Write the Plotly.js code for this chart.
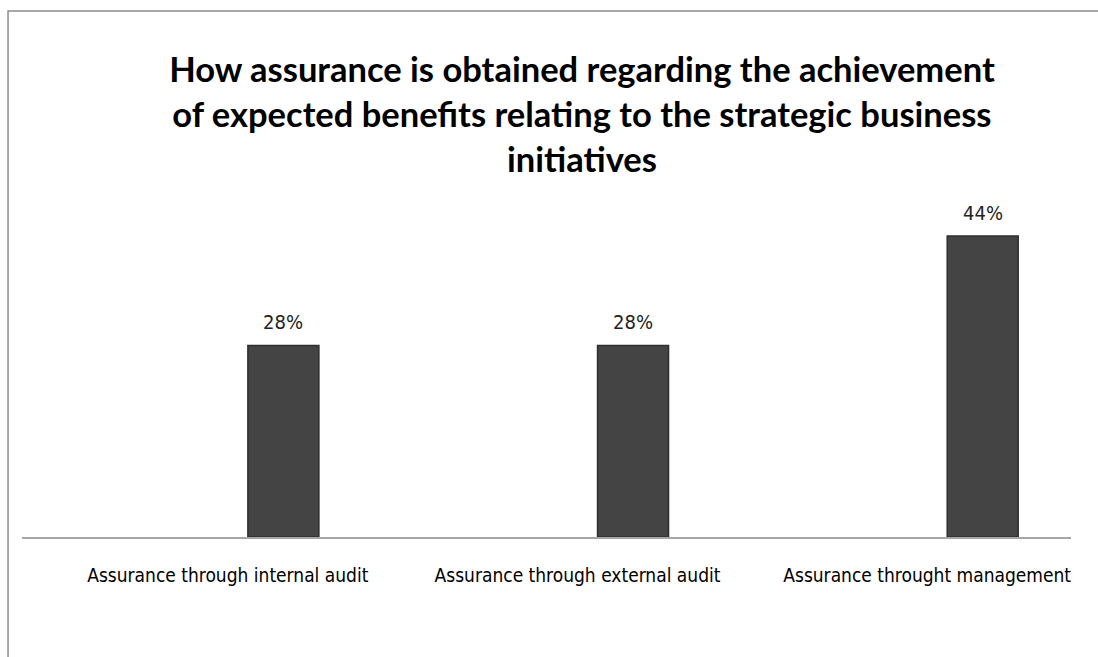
<!DOCTYPE html>
<html>
<head>
<meta charset="utf-8">
<script src="https://cdn.plot.ly/plotly-3.0.1.min.js"></script>
<style>html,body{margin:0;padding:0;background:#fff;}#chart{width:1098px;height:657px;}</style>
</head>
<body>
<div id="chart"></div>
<script>
const categories = [
  'Assurance through internal audit',
  'Assurance through external audit',
  'Assurance throught management'
];
const values = [28, 28, 44];
const valueLabels = values.map(v => v + '%');
const titleText = 'How assurance is obtained regarding the achievement<br>of expected benefits relating to the strategic business<br>initiatives';

const bodyFont = 'DejaVu Sans Condensed, DejaVu Sans, sans-serif';

const trace = {
  type: 'bar',
  x: categories,
  y: values,
  width: 0.203,
  offset: 0.146,
  marker: {color: '#444444', line: {color: '#2e2e2e', width: 1.5}},
  hoverinfo: 'none',
  showlegend: false
};

const annotations = categories.map((c, i) => ({
  x: c, y: values[i], xref: 'x', yref: 'y',
  text: valueLabels[i], showarrow: false,
  xanchor: 'center', yanchor: 'bottom',
  xshift: 86.5, yshift: 9,
  font: {family: bodyFont, size: 20, color: '#222222', stretch: 'condensed'}
}));

const layout = {
  width: 1098, height: 657,
  margin: {l: 22, r: 27, t: 195, b: 120, pad: 0},
  paper_bgcolor: '#ffffff', plot_bgcolor: '#ffffff',
  title: {
    text: titleText,
    font: {family: 'Lato', size: 34.5, color: '#000000', weight: 'bold'},
    x: 0.53, xref: 'container', xanchor: 'center',
    y: 0.875, yref: 'container', yanchor: 'top'
  },
  xaxis: {
    type: 'category', range: [-0.5, 2.5], fixedrange: true,
    showline: true, linecolor: '#a6a6a6', linewidth: 1.5,
    showgrid: false, zeroline: false, ticks: '',
    ticklabelshift: 31, ticklabelstandoff: 21,
    tickfont: {family: bodyFont, size: 19, color: '#000000', stretch: 'condensed'}
  },
  yaxis: {
    range: [0, 50], visible: false, showgrid: false, zeroline: false, fixedrange: true
  },
  annotations: annotations,
  shapes: [{
    type: 'rect', xref: 'paper', yref: 'paper',
    x0: -0.0133, x1: 1.3, y0: -0.6, y1: 1.538,
    line: {color: '#8c8c8c', width: 1.5}, fillcolor: 'rgba(0,0,0,0)', layer: 'below'
  }]
};

Plotly.newPlot('chart', [trace], layout, {displayModeBar: false, staticPlot: true});
</script>
</body>
</html>
